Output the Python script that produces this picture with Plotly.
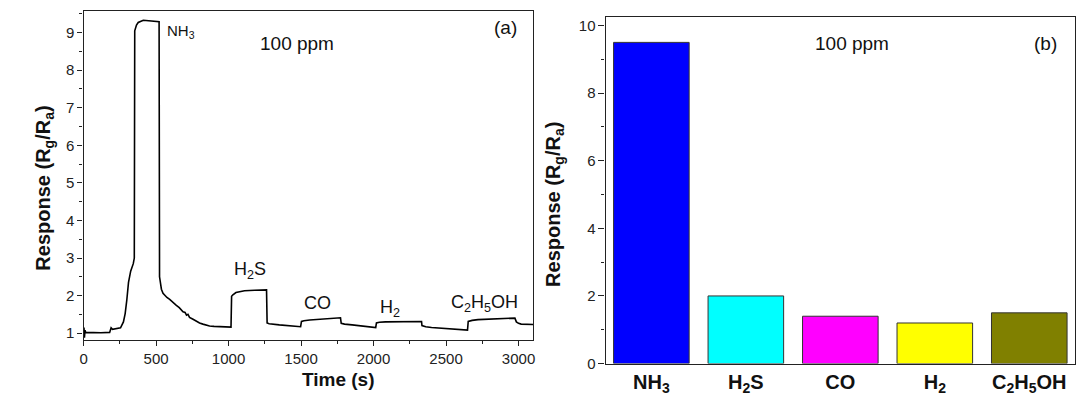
import plotly.graph_objects as go

# ---- (a) dynamic response trace, 100 ppm of each gas ----
time_s = [0, 3, 6, 10, 15, 60, 120, 180, 185, 190, 200, 230, 255, 275, 287, 298,
          310, 325, 343, 350, 353, 365, 377, 412, 457, 490, 521, 524, 530, 537,
          548, 560, 575, 594, 615, 640, 660, 686, 700, 710, 720, 731, 755, 777,
          800, 823, 850, 869, 900, 937, 980, 1017, 1021, 1030, 1051, 1080, 1110,
          1180, 1262, 1266, 1280, 1350, 1420, 1497, 1503, 1520, 1560, 1620, 1700,
          1772, 1777, 1800, 1852, 1943, 2015, 2020, 2040, 2082, 2200, 2331, 2334,
          2360, 2400, 2492, 2583, 2648, 2653, 2680, 2720, 2811, 2903, 2975, 2985,
          3000, 3018, 3060, 3100]
response_t = [1.02, 1.15, 0.88, 1.08, 1.02, 1.01, 1.01, 1.02, 1.09, 1.14, 1.10,
              1.12, 1.14, 1.30, 1.52, 1.87, 2.35, 2.65, 2.85, 3.00, 9.05, 9.20,
              9.27, 9.33, 9.32, 9.30, 9.29, 2.50, 2.30, 2.17, 2.06, 2.00, 1.95,
              1.90, 1.82, 1.74, 1.68, 1.57, 1.55, 1.48, 1.50, 1.42, 1.37, 1.32,
              1.27, 1.24, 1.21, 1.19, 1.18, 1.17, 1.17, 1.16, 1.98, 2.02, 2.08,
              2.11, 2.13, 2.14, 2.15, 1.27, 1.25, 1.22, 1.20, 1.17, 1.31, 1.33,
              1.35, 1.37, 1.40, 1.41, 1.26, 1.24, 1.22, 1.18, 1.15, 1.27, 1.29,
              1.30, 1.31, 1.31, 1.20, 1.17, 1.15, 1.12, 1.10, 1.08, 1.31, 1.34,
              1.36, 1.38, 1.40, 1.40, 1.30, 1.26, 1.24, 1.23, 1.23]

# gas labels on the trace: (text, time, response, font size, anchor)
trace_labels = [
    ("NH<sub>3</sub>", 562, 9.03, 15, "left"),
    ("H<sub>2</sub>S", 1146, 2.68, 18, "center"),
    ("CO", 1615, 1.80, 18, "center"),
    ("H<sub>2</sub>", 2113, 1.66, 18, "center"),
    ("C<sub>2</sub>H<sub>5</sub>OH", 2765, 1.80, 18, "center"),
]

# ---- (b) response summary ----
gases = ["NH3", "H2S", "CO", "H2", "C2H5OH"]
gas_ticktext = ["NH<sub>3</sub>", "H<sub>2</sub>S", "CO", "H<sub>2</sub>",
                "C<sub>2</sub>H<sub>5</sub>OH"]
response_bar = [9.5, 2.0, 1.4, 1.2, 1.5]
bar_colors = ["#0000FF", "#00FFFF", "#FF00FF", "#FFFF00", "#808000"]

FONT = "Liberation Sans, Arial, sans-serif"
AXC = "#222222"
W, H = 1079, 415

fig = go.Figure()

fig.add_trace(go.Scatter(
    x=time_s, y=response_t, mode="lines",
    line=dict(color="black", width=1.6),
    xaxis="x", yaxis="y", showlegend=False, hoverinfo="skip"))

fig.add_trace(go.Bar(
    x=gases, y=response_bar, width=0.8,
    marker=dict(color=bar_colors, line=dict(color="#333333", width=1)),
    xaxis="x2", yaxis="y2", showlegend=False))

axis_common = dict(showline=True, linecolor=AXC, linewidth=1.3, mirror=True,
                   showgrid=False, zeroline=False,
                   tickfont=dict(family=FONT, size=15, color=AXC),
                   tickcolor=AXC)

fig.update_layout(
    width=W, height=H,
    margin=dict(l=0, r=0, t=0, b=0),
    paper_bgcolor="white", plot_bgcolor="white",
    font=dict(family=FONT, color=AXC),
    bargap=0.2,
    xaxis=dict(domain=[80 / W, 532 / W], anchor="y", range=[0, 3100],
               tickmode="linear", tick0=0, dtick=500,
               ticks="outside", ticklen=5, tickwidth=1.2,
               minor=dict(dtick=250, ticks="outside", ticklen=3, tickwidth=1.1,
                          tickcolor=AXC),
               **axis_common),
    yaxis=dict(domain=[1 - 347 / H, 1 - 11 / H], anchor="x", range=[0.809, 9.582],
               tickmode="linear", tick0=1, dtick=1,
               ticks="outside", ticklen=5, tickwidth=1.2,
               minor=dict(dtick=0.5, ticks="outside", ticklen=3, tickwidth=1.1,
                          tickcolor=AXC),
               **axis_common),
    xaxis2=dict(domain=[605 / W, 1077 / W], anchor="y2", range=[-0.484, 4.484],
                type="category", ticks="", tickvals=gases, ticktext=gas_ticktext,
                **{**axis_common,
                   "tickfont": dict(family=FONT, size=20, color="#111111",
                                    weight="bold")}),
    yaxis2=dict(domain=[1 - 370.7 / H, 1 - 17.7 / H], anchor="x2", range=[0, 10.24],
                tickmode="linear", tick0=0, dtick=2,
                ticks="outside", ticklen=6, tickwidth=1.2,
                minor=dict(dtick=1, ticks="outside", ticklen=3, tickwidth=1.1,
                           tickcolor=AXC),
                **axis_common),
)

ann = []
for text, tx, ty, size, anchor in trace_labels:
    ann.append(dict(text=text, x=tx, y=ty, xref="x", yref="y", showarrow=False,
                    xanchor=anchor, yanchor="middle",
                    font=dict(family=FONT, size=size, color="#111111")))

ann += [
    dict(text="100 ppm", x=1475, y=8.72, xref="x", yref="y", showarrow=False,
         font=dict(family=FONT, size=19, color="#111111")),
    dict(text="(a)", x=2908, y=9.13, xref="x", yref="y", showarrow=False,
         font=dict(family=FONT, size=19, color="#111111")),
    dict(text="100 ppm", x=2.126, y=9.48, xref="x2", yref="y2", showarrow=False,
         font=dict(family=FONT, size=19, color="#111111")),
    dict(text="(b)", x=4.169, y=9.48, xref="x2", yref="y2", showarrow=False,
         font=dict(family=FONT, size=19, color="#111111")),
    dict(text="<b>Time (s)</b>", x=298 / W, y=1 - 400 / H, xref="paper", yref="paper",
         showarrow=False, font=dict(family=FONT, size=19, color="#111111")),
    dict(text="<b>Response (R<sub>g</sub>/R<sub>a</sub>)</b>", x=26 / W, y=1 - 192 / H,
         xref="paper", yref="paper", showarrow=False, textangle=-90,
         font=dict(family=FONT, size=20, color="#111111")),
    dict(text="<b>Response (R<sub>g</sub>/R<sub>a</sub>)</b>", x=554 / W, y=1 - 208 / H,
         xref="paper", yref="paper", showarrow=False, textangle=-90,
         font=dict(family=FONT, size=20, color="#111111")),
]
fig.update_layout(annotations=ann)

fig.write_html("out.html")
